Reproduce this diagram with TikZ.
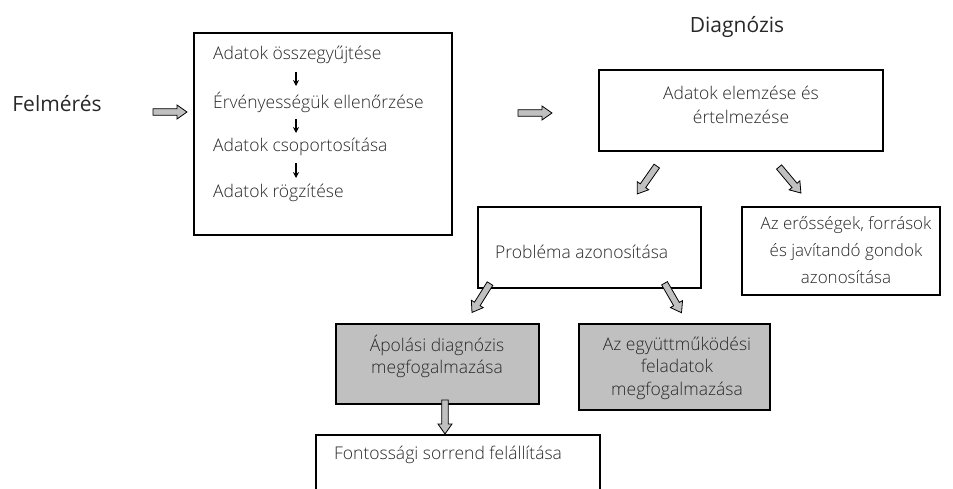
\documentclass[tikz,border=0pt]{standalone}
\usepackage{fontspec}
\setmainfont{Open Sans}
\newfontfamily\lightfont{Open Sans Light}
\usetikzlibrary{arrows.meta}
\definecolor{boxgray}{RGB}{192,192,192}
\definecolor{txt}{RGB}{40,40,40}
\tikzset{
  box/.style={draw=black, line width=1.3pt, fill=white, inner sep=0pt},
  graybox/.style={draw=black, line width=1.3pt, fill=boxgray, inner sep=0pt},
  blockarr/.pic={
    \draw[line width=0.8pt, fill=boxgray, line join=miter]
      (-17,-3.3) -- (7,-3.3) -- (7,-7) -- (17,0) -- (7,7) -- (7,3.3) -- (-17,3.3) -- cycle;
  },
  item/.style={font=\lightfont\fontsize{17.5}{22}\selectfont, text=txt, inner sep=0pt},
  title/.style={font=\fontsize{21}{24}\selectfont, text=txt, inner sep=0pt},
  smallarrow/.style={-{Stealth[length=6pt,width=6pt]}, line width=1.4pt}
}
\begin{document}
\begin{tikzpicture}[x=1pt,y=-1pt]
\useasboundingbox (0,0) rectangle (953,488);
% titles
\node[title] (felmeres) at (57,104) {Felmérés};
\node[title] (diagnozis) at (737,27) {Diagnózis};

% first stage: data collection steps
\node[box, minimum width=258pt, minimum height=202pt] (gyujt) at (323,134) {};
\node[item, anchor=west] (s1) at (213,55) {Adatok összegyűjtése};
\node[item, anchor=west] (s2) at (213,102) {Érvényességük ellenőrzése};
\node[item, anchor=west] (s3) at (213,147) {Adatok csoportosítása};
\node[item, anchor=west] (s4) at (213,193) {Adatok rögzítése};
\coordinate (a1t) at (296,72); \coordinate (a1b) at (296,86);
\coordinate (a2t) at (296,119); \coordinate (a2b) at (296,133);
\coordinate (a3t) at (296,163); \coordinate (a3b) at (296,178);
\draw[smallarrow] (a1t) -- (a1b);
\draw[smallarrow] (a2t) -- (a2b);
\draw[smallarrow] (a3t) -- (a3b);

% stage arrows
\pic (ar1) at (170,112) {blockarr};
\pic (ar2) at (535,113) {blockarr};

% diagnosis boxes
\node[box, minimum width=284pt, minimum height=81pt] (elem) at (741,110.5) {};
\node[item, align=center, font=\lightfont\fontsize{17.5}{24}\selectfont] (elemt) at (741,105) {Adatok elemzése és\\értelmezése};

\node[box, minimum width=223pt, minimum height=81pt] (prob) at (589.5,247.5) {};
\node[item, anchor=west] (probt) at (495,252) {Probléma azonosítása};

\node[box, minimum width=198pt, minimum height=88pt] (eros) at (841,251) {};
\node[item, align=center, font=\lightfont\fontsize{17}{27}\selectfont] (erost) at (846,250)
  {Az erősségek, források\\és javítandó gondok\\azonosítása};

\node[graybox, minimum width=203pt, minimum height=80pt] (apol) at (437.5,364) {};
\node[item, align=center] (apolt) at (437,356) {Ápolási diagnózis\\megfogalmazása};

\node[graybox, minimum width=191pt, minimum height=86pt] (egyutt) at (674.5,367) {};
\node[item, align=center, font=\lightfont\fontsize{17.5}{22.5}\selectfont] (egyuttt) at (677,368) {Az együttműködési\\feladatok\\megfogalmazása};

\draw[box] (316,435) rectangle (600,520);
\node[item, anchor=west] (fontt) at (334,455) {Fontossági sorrend felállítása};

% connecting block arrows
\pic[rotate=-125] (d1) at (647,180) {blockarr};
\pic[rotate=-50] (d2) at (790,180) {blockarr};
\pic[rotate=-122] (d3) at (481,298) {blockarr};
\pic[rotate=-60] (d4) at (673,298) {blockarr};
\pic[rotate=-90] (d5) at (445,417) {blockarr};
\end{tikzpicture}
\end{document}
